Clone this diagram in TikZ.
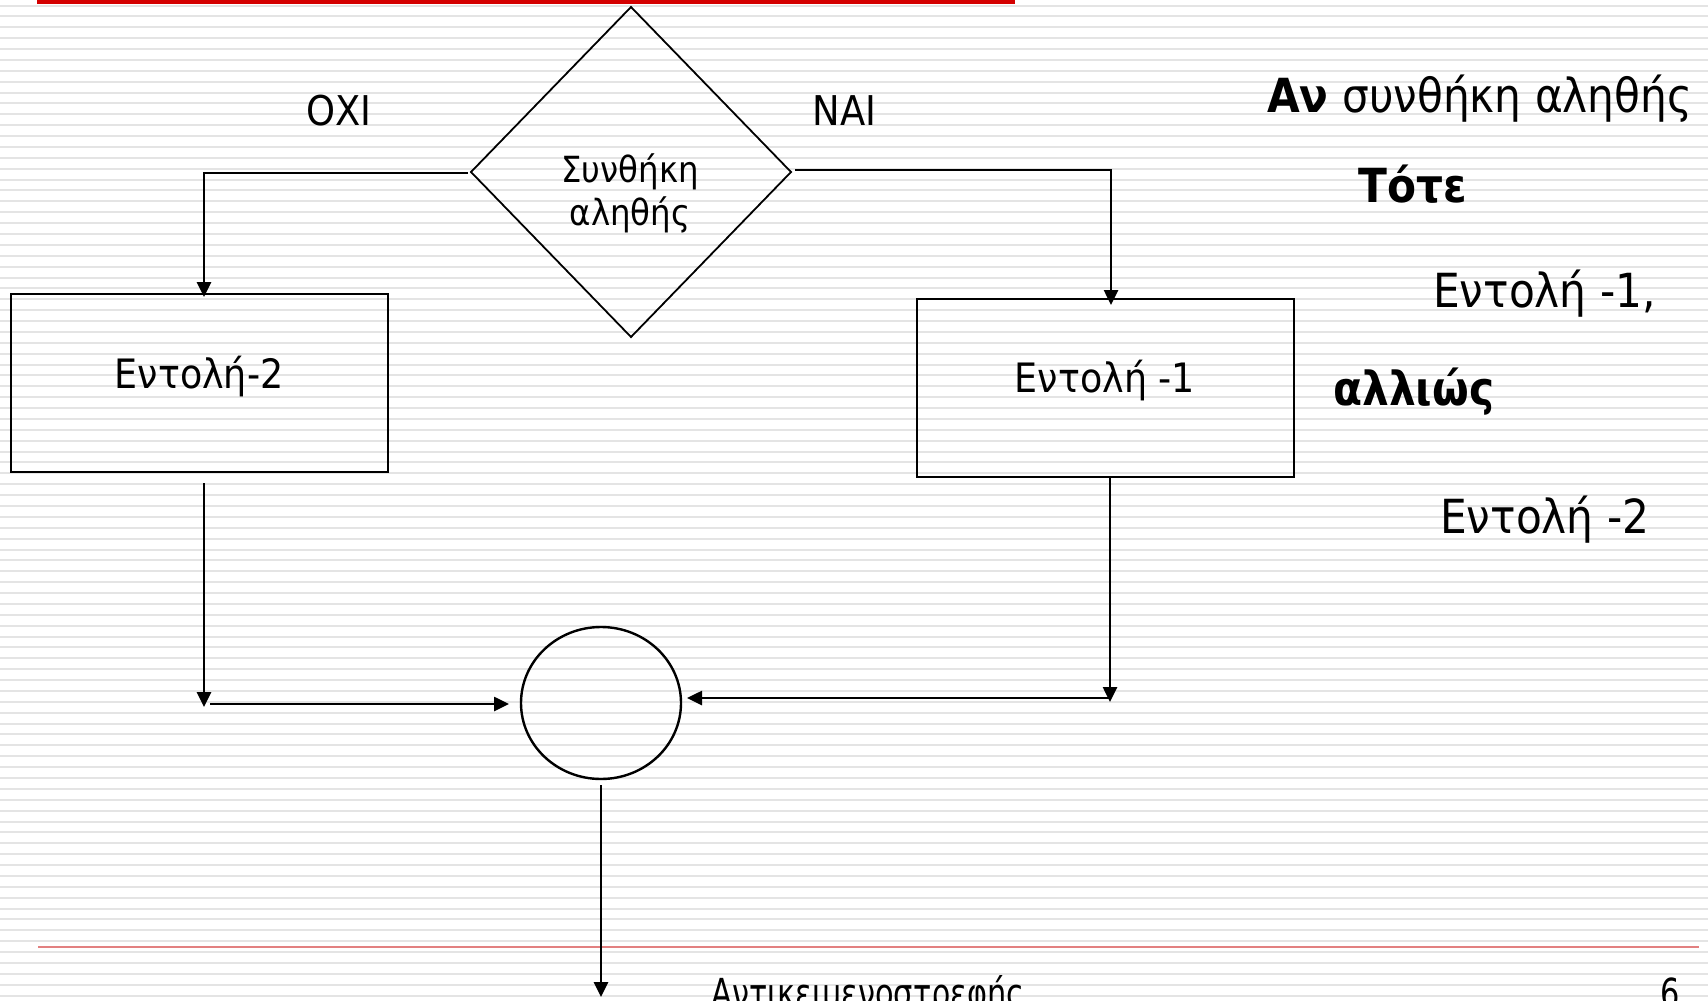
\documentclass[tikz,border=0pt]{standalone}
\usepackage{fontspec}
\setmainfont{DejaVu Sans}[FakeStretch=0.9]
\newfontfamily\footfont{DejaVu Sans}[FakeStretch=0.76]
\usetikzlibrary{arrows.meta,shapes.geometric}
\definecolor{stripegray}{RGB}{228,228,228}
\definecolor{topred}{RGB}{212,0,0}
\definecolor{footred}{RGB}{226,128,128}
\tikzset{
  stripe/.style={line width=2pt, draw=stripegray},
  conn/.style={line width=2.6pt, -{Triangle[length=15pt,width=14pt]}},
  boxstyle/.style={draw, line width=2.4pt, minimum width=377pt, minimum height=178pt, inner sep=0pt, outer sep=0pt},
  txtbox/.style={inner sep=0pt, anchor=base, font=\fontsize{40.5}{48}\selectfont},
  txtlab/.style={inner sep=0pt, anchor=base, font=\fontsize{41}{48}\selectfont},
  txtdia/.style={inner sep=0pt, anchor=base, font=\fontsize{36}{43}\selectfont},
  txtright/.style={inner sep=0pt, anchor=base west, font=\fontsize{47}{56}\selectfont},
  txtfoot/.style={inner sep=0pt, anchor=base, font=\footfont\fontsize{40}{48}\selectfont},
}
\begin{document}
\begin{tikzpicture}[x=1pt,y=-1pt]
\useasboundingbox (0,0) rectangle (1708,1001);
\clip (0,0) rectangle (1708,1001);
\fill[white] (0,0) rectangle (1708,1001);
\foreach \i in {0,...,91} \draw[stripe] (0,{5.5+10.88*\i}) -- (1708,{5.5+10.88*\i});
% top red bar
\fill[topred] (37,0) rectangle (1015,3.5);
% footer line
\draw[footred, line width=2pt] (38,947) -- (1699,947);

% shapes
\node[draw, diamond, line width=1.8pt, inner sep=0pt, outer sep=0pt, minimum width=320pt, minimum height=330pt] (dia) at (631,172) {};
\node[boxstyle] (box2) at (199.5,383) {};
\node[boxstyle] (box1) at (1105.5,388) {};
\node[draw, ellipse, line width=2.4pt, inner sep=0pt, outer sep=0pt, minimum width=160pt, minimum height=152pt] (merge) at (601,703) {};

% texts
\node[txtdia] (t1) at (630,182) {Συνθήκη};
\node[txtdia] (t2) at (630,225) {αληθής};
\node[txtlab] (oxi) at (339,125) {ΟΧΙ};
\node[txtlab] (nai) at (844.5,125) {ΝΑΙ};
\node[txtbox] (b2t) at (199,388) {Εντολή-2};
\node[txtbox] (b1t) at (1105,392) {Εντολή -1};

\node[txtright] (r1) at (1267,112) {\textbf{Αν} συνθήκη αληθής};
\node[txtright] (r2) at (1358,202) {\textbf{Τότε}};
\node[txtright] (r3) at (1433,307) {Εντολή -1,};
\node[txtright] (r4) at (1333,405) {\textbf{αλλιώς}};
\node[txtright] (r5) at (1440,533) {Εντολή -2};

\node[txtfoot] (f1) at (868,1007) {Αντικειμενοστρεφής};
\node[txtfoot] (f2) at (1670,1007) {6};

% coordinates
\coordinate (dl) at (468,173);
\coordinate (b2in) at (204,297);
\coordinate (dr) at (795,170);
\coordinate (b1in) at (1111,305);
\coordinate (b2out) at (204,483);
\coordinate (lc) at (204,707);
\coordinate (lh) at (210,704);
\coordinate (mw) at (509,704);
\coordinate (b1out) at (1110,477);
\coordinate (rc) at (1110,702);
\coordinate (rh) at (1110,698);
\coordinate (me) at (687,698);
\coordinate (ms) at (601,785);
\coordinate (endc) at (601,997);

% connectors
\draw[conn] (dl) -| (b2in);
\draw[conn] (dr) -| (b1in);
\draw[conn] (b2out) -- (lc);
\draw[conn] (lh) -- (mw);
\draw[conn] (b1out) -- (rc);
\draw[conn] (rh) -- (me);
\draw[conn] (ms) -- (endc);
\end{tikzpicture}
\end{document}
